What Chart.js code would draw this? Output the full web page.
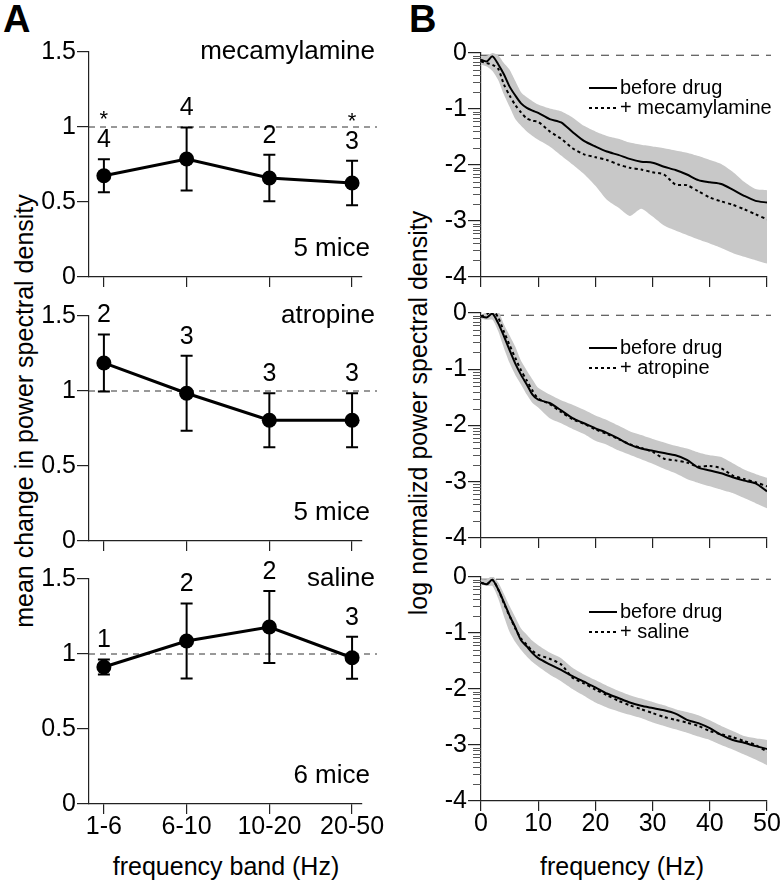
<!DOCTYPE html>
<html>
<head>
<meta charset="utf-8">
<script src="https://cdn.jsdelivr.net/npm/chart.js@4.4.1/dist/chart.umd.min.js"></script>
<style>
body { margin: 0; background: #fff; }
#fig { position: relative; width: 783px; height: 884px; overflow: hidden; font-family: "Liberation Sans", Arial, sans-serif; }
#fig canvas { position: absolute; }
.lbl { position: absolute; white-space: nowrap; line-height: 1; color: #000; }
.rot { transform: translate(-50%, -50%) rotate(-90deg); }
.mid { transform: translate(-50%, -50%); }
</style>
</head>
<body>
<div id="fig">
  <div class="lbl" style="left:3px;top:0;font-weight:bold;font-size:38px">A</div>
  <div class="lbl" style="left:409px;top:0;font-weight:bold;font-size:38px">B</div>
  <div class="lbl rot" style="left:24px;top:411px;font-size:25px">mean change in power spectral density</div>
  <div class="lbl rot" style="left:418px;top:413px;font-size:25px">log normalizd power spectral density</div>
  <div class="lbl mid" style="left:226px;top:866px;font-size:25px">frequency band (Hz)</div>
  <div class="lbl mid" style="left:622px;top:866px;font-size:25px">frequency (Hz)</div>

  <canvas id="a1" width="400" height="265" style="left:0;top:30px"></canvas>
  <canvas id="a2" width="400" height="260" style="left:0;top:295px"></canvas>
  <canvas id="a3" width="400" height="329" style="left:0;top:555px"></canvas>
  <canvas id="b1" width="383" height="265" style="left:400px;top:30px"></canvas>
  <canvas id="b2" width="383" height="260" style="left:400px;top:295px"></canvas>
  <canvas id="b3" width="383" height="329" style="left:400px;top:555px"></canvas>
</div>
<script>
// --- données panneau A : variation moyenne par bande de fréquence ---
const bands = ['1-6', '6-10', '10-20', '20-50'];
const yTicksA = [0, 0.5, 1, 1.5];

const mecaMean = [0.675, 0.787, 0.66, 0.627];
const mecaErr  = [0.11, 0.21, 0.155, 0.148];
const mecaN    = [4, 4, 2, 3];
const mecaStar = [true, false, false, true];

const atroMean = [1.187, 0.985, 0.805, 0.805];
const atroErr  = [0.19, 0.25, 0.18, 0.18];
const atroN    = [2, 3, 3, 3];
const atroStar = [false, false, false, false];

const salMean = [0.913, 1.087, 1.18, 0.975];
const salErr  = [0.05, 0.25, 0.24, 0.14];
const salN    = [1, 2, 2, 3];
const salStar = [false, false, false, false];

// --- données panneau B : spectres log normalisés ---
const yTicksB = [-4, -3, -2, -1, 0];
const freq = [0, 1, 2, 3, 4, 5, 6, 7, 8, 9, 10, 12, 14, 16, 18, 20, 22, 24, 26, 28, 30, 32, 34, 36, 38, 40, 42, 44, 46, 48, 50];

const mecaBefore = [-0.12, -0.15, -0.06, -0.20, -0.38, -0.60, -0.76, -0.90, -0.98, -1.03, -1.07, -1.18, -1.24, -1.41, -1.57, -1.67, -1.76, -1.82, -1.89, -1.94, -1.96, -2.03, -2.09, -2.17, -2.27, -2.31, -2.34, -2.44, -2.55, -2.64, -2.67];
const mecaDrug   = [-0.15, -0.18, -0.21, -0.28, -0.56, -0.76, -0.93, -1.06, -1.17, -1.21, -1.23, -1.40, -1.53, -1.70, -1.81, -1.86, -1.91, -1.99, -2.05, -2.08, -2.13, -2.17, -2.35, -2.36, -2.47, -2.58, -2.65, -2.71, -2.79, -2.88, -2.97];
const mecaUpper  = [-0.06, -0.05, 0.0, -0.04, -0.18, -0.30, -0.50, -0.70, -0.79, -0.86, -0.92, -0.99, -1.04, -1.15, -1.30, -1.40, -1.48, -1.53, -1.60, -1.64, -1.67, -1.70, -1.74, -1.78, -1.84, -1.91, -1.98, -2.12, -2.30, -2.43, -2.45];
const mecaLower  = [-0.21, -0.24, -0.32, -0.48, -0.74, -0.96, -1.18, -1.30, -1.40, -1.48, -1.55, -1.67, -1.83, -1.99, -2.16, -2.37, -2.62, -2.76, -2.91, -2.78, -2.92, -3.08, -3.17, -3.25, -3.33, -3.40, -3.48, -3.57, -3.64, -3.70, -3.76];

const atroBefore = [-0.06, -0.08, -0.01, -0.18, -0.41, -0.66, -0.90, -1.10, -1.27, -1.45, -1.54, -1.60, -1.73, -1.87, -1.96, -2.05, -2.13, -2.23, -2.34, -2.41, -2.45, -2.49, -2.53, -2.61, -2.75, -2.80, -2.85, -2.92, -2.98, -3.03, -3.17];
const atroDrug   = [-0.06, -0.02, 0.05, -0.08, -0.33, -0.57, -0.80, -1.02, -1.20, -1.38, -1.52, -1.62, -1.76, -1.89, -1.97, -2.07, -2.15, -2.24, -2.33, -2.40, -2.47, -2.59, -2.62, -2.66, -2.73, -2.72, -2.76, -2.89, -2.95, -3.01, -3.08];
const atroUpper  = [-0.03, 0.02, 0.15, 0.05, -0.20, -0.40, -0.60, -0.85, -1.02, -1.18, -1.33, -1.45, -1.55, -1.63, -1.72, -1.82, -1.90, -2.00, -2.10, -2.17, -2.24, -2.30, -2.36, -2.41, -2.48, -2.53, -2.56, -2.67, -2.78, -2.86, -2.93];
const atroLower  = [-0.10, -0.12, -0.12, -0.32, -0.62, -0.89, -1.10, -1.27, -1.45, -1.60, -1.68, -1.87, -1.96, -2.06, -2.15, -2.27, -2.34, -2.44, -2.52, -2.60, -2.68, -2.77, -2.85, -2.95, -3.02, -3.08, -3.14, -3.20, -3.29, -3.38, -3.47];

const salBefore = [-0.10, -0.13, -0.05, -0.22, -0.45, -0.69, -0.90, -1.13, -1.24, -1.36, -1.45, -1.56, -1.66, -1.77, -1.87, -1.97, -2.08, -2.16, -2.24, -2.30, -2.34, -2.38, -2.44, -2.55, -2.61, -2.70, -2.82, -2.91, -2.96, -3.02, -3.07];
const salDrug   = [-0.10, -0.13, -0.05, -0.22, -0.47, -0.70, -0.92, -1.10, -1.21, -1.32, -1.39, -1.46, -1.56, -1.80, -1.90, -2.01, -2.11, -2.21, -2.29, -2.36, -2.43, -2.50, -2.55, -2.60, -2.66, -2.75, -2.81, -2.86, -2.93, -3.00, -3.12];
const salUpper  = [-0.04, -0.04, 0.02, -0.10, -0.30, -0.52, -0.72, -0.92, -1.03, -1.14, -1.22, -1.35, -1.45, -1.62, -1.74, -1.84, -1.94, -2.03, -2.11, -2.17, -2.23, -2.29, -2.36, -2.41, -2.47, -2.56, -2.66, -2.75, -2.84, -2.88, -2.91];
const salLower  = [-0.14, -0.16, -0.16, -0.38, -0.70, -0.98, -1.16, -1.30, -1.42, -1.52, -1.60, -1.74, -1.86, -2.00, -2.12, -2.24, -2.33, -2.40, -2.46, -2.52, -2.60, -2.66, -2.72, -2.78, -2.85, -2.91, -3.00, -3.08, -3.17, -3.26, -3.36];

const FONT = '"Liberation Sans", Arial, sans-serif';
Chart.defaults.font.family = FONT;
Chart.defaults.color = '#000';

// taille fixe des axes pour caler les zones de tracé
function fixScale(size, horiz) {
  return s => {
    if (horiz) s.height = size; else s.width = size;
    s.paddingTop = s.paddingBottom = s.paddingLeft = s.paddingRight = 0;
  };
}

// ligne pointillée de référence (1 ou 0)
const refLine = {
  id: 'refLine',
  beforeDatasetsDraw(chart, args, o) {
    const { ctx, chartArea: ca, scales: { y } } = chart;
    const py = y.getPixelForValue(o.value);
    ctx.save();
    ctx.strokeStyle = '#333';
    ctx.lineWidth = 1;
    ctx.setLineDash(o.dash);
    ctx.beginPath();
    ctx.moveTo(ca.left, py);
    ctx.lineTo(ca.right + o.extend, py);
    ctx.stroke();
    ctx.restore();
  }
};

// barres d'erreur + effectifs + étoiles
const errorBars = {
  id: 'errorBars',
  beforeDatasetsDraw(chart, args, o) {
    if (!o.err) return;
    const { ctx, scales: { x, y } } = chart;
    const pts = chart.data.datasets[0].data;
    ctx.save();
    ctx.strokeStyle = '#000';
    ctx.lineWidth = 2;
    pts.forEach((p, i) => {
      const px = x.getPixelForValue(p.x);
      const top = y.getPixelForValue(p.y + o.err[i]);
      const bot = y.getPixelForValue(p.y - o.err[i]);
      ctx.beginPath();
      ctx.moveTo(px, top); ctx.lineTo(px, bot);
      ctx.moveTo(px - 6, top); ctx.lineTo(px + 6, top);
      ctx.moveTo(px - 6, bot); ctx.lineTo(px + 6, bot);
      ctx.stroke();
    });
    ctx.restore();
  },
  afterDatasetsDraw(chart, args, o) {
    if (!o.err) return;
    const { ctx, scales: { x, y } } = chart;
    const pts = chart.data.datasets[0].data;
    ctx.save();
    ctx.fillStyle = '#000';
    ctx.textAlign = 'center';
    ctx.textBaseline = 'middle';
    pts.forEach((p, i) => {
      const px = x.getPixelForValue(p.x);
      const ly = y.getPixelForValue(p.y + o.err[i]) - 19;
      ctx.font = '25px ' + FONT;
      ctx.fillText(String(o.n[i]), px, ly);
      if (o.star[i]) {
        ctx.font = '22px ' + FONT;
        ctx.fillText('*', px, ly - 20);
      }
    });
    ctx.restore();
  }
};

// nom du produit + nombre de souris
const panelText = {
  id: 'panelText',
  afterDraw(chart, args, o) {
    if (!o.title) return;
    const { ctx, chartArea: ca } = chart;
    ctx.save();
    ctx.fillStyle = '#000';
    ctx.textAlign = 'right';
    ctx.textBaseline = 'middle';
    ctx.font = '26px ' + FONT;
    ctx.fillText(o.title, ca.right + 13, ca.top);
    ctx.fillText(o.note, ca.right + 8, ca.bottom - 28);
    ctx.restore();
  }
};

// légende des spectres
const legendB = {
  id: 'legendB',
  afterDraw(chart, args, o) {
    if (!o.drug) return;
    const { ctx, chartArea: ca } = chart;
    const x0 = ca.left + 108, y0 = ca.top + 35;
    ctx.save();
    ctx.strokeStyle = '#000';
    ctx.lineWidth = 2;
    ctx.beginPath(); ctx.moveTo(x0, y0); ctx.lineTo(x0 + 28, y0); ctx.stroke();
    ctx.setLineDash([3, 3]);
    ctx.beginPath(); ctx.moveTo(x0, y0 + 20); ctx.lineTo(x0 + 28, y0 + 20); ctx.stroke();
    ctx.fillStyle = '#000';
    ctx.font = '20px ' + FONT;
    ctx.textBaseline = 'middle';
    ctx.fillText('before drug', x0 + 31, y0);
    ctx.fillText('+ ' + o.drug, x0 + 31, y0 + 20);
    ctx.restore();
  }
};

// petites graduations log sur l'axe y
const minorTicks = {
  id: 'minorTicks',
  afterDraw(chart, args, o) {
    if (!o.on) return;
    const { ctx, chartArea: ca, scales: { y } } = chart;
    ctx.save();
    ctx.strokeStyle = '#555';
    ctx.lineWidth = 1;
    ctx.beginPath();
    for (let d = 0; d < 4; d++) {
      for (let k = 2; k <= 9; k++) {
        const py = Math.round(y.getPixelForValue(-(d + 1) + Math.log10(k))) + 0.5;
        ctx.moveTo(ca.left - 8, py);
        ctx.lineTo(ca.left, py);
      }
    }
    ctx.stroke();
    ctx.restore();
  }
};

const axisGrid = len => ({ drawOnChartArea: false, tickLength: len, color: '#222', lineWidth: 1.2 });
const axisBorder = { color: '#222', width: 1.2 };

function panelA(id, p) {
  const cv = document.getElementById(id);
  const cTop = parseFloat(cv.style.top);
  new Chart(cv, {
    type: 'line',
    data: {
      datasets: [{
        data: p.mean.map((v, i) => ({ x: i, y: v })),
        borderColor: '#000', borderWidth: 3, tension: 0,
        pointRadius: 7.5, pointBackgroundColor: '#000', pointBorderWidth: 0,
        clip: false
      }]
    },
    options: {
      responsive: false, animation: false, events: [],
      layout: { padding: { left: 0, right: 400 - 362, top: p.top - cTop, bottom: 0 } },
      plugins: {
        legend: { display: false }, tooltip: { enabled: false },
        refLine: { value: 1, extend: 15, dash: [6, 5] },
        errorBars: { err: p.err, n: p.n, star: p.star },
        panelText: { title: p.drug, note: p.mice }
      },
      scales: {
        x: {
          type: 'linear', min: -0.18, max: 3.12,
          afterBuildTicks: s => { s.ticks = bands.map((b, i) => ({ value: i })); },
          ticks: { display: p.showX, autoSkip: false, maxRotation: 0, padding: -2, font: { size: 25 }, callback: v => bands[v] },
          grid: axisGrid(10), border: axisBorder,
          afterFit: fixScale(cTop + cv.height - p.bottom, true)
        },
        y: {
          min: 0, max: 1.5,
          afterBuildTicks: s => { s.ticks = yTicksA.map(v => ({ value: v })); },
          ticks: { padding: 1, font: { size: 25 }, callback: v => String(v) },
          grid: axisGrid(12), border: axisBorder,
          afterFit: fixScale(89, false)
        }
      }
    },
    plugins: [refLine, errorBars, panelText]
  });
}

function panelB(id, p) {
  const cv = document.getElementById(id);
  const cTop = parseFloat(cv.style.top);
  const xy = arr => freq.map((f, i) => ({ x: f, y: arr[i] }));
  new Chart(cv, {
    type: 'line',
    data: {
      datasets: [
        { data: xy(p.before), borderColor: '#000', borderWidth: 2, pointRadius: 0, tension: 0.25, order: 0 },
        { data: xy(p.drug), borderColor: '#000', borderWidth: 2, borderDash: [3, 3], pointRadius: 0, tension: 0.25, order: 1 },
        { data: xy(p.upper), borderWidth: 0, borderColor: 'rgba(0,0,0,0)', backgroundColor: '#c8c8c8', fill: '+1', pointRadius: 0, tension: 0.2, order: 2, clip: false },
        { data: xy(p.lower), borderWidth: 0, borderColor: 'rgba(0,0,0,0)', fill: false, pointRadius: 0, tension: 0.2, order: 3, clip: false }
      ]
    },
    options: {
      responsive: false, animation: false, events: [],
      layout: { padding: { left: 0, right: 383 - 367, top: p.top - cTop, bottom: 0 } },
      plugins: {
        legend: { display: false }, tooltip: { enabled: false },
        refLine: { value: -0.04, extend: 4, dash: [8, 7] },
        legendB: { drug: p.name },
        minorTicks: { on: true }
      },
      scales: {
        x: {
          type: 'linear', min: 0, max: 50,
          ticks: { display: p.showX, stepSize: 10, maxRotation: 0, padding: -2, font: { size: 25 }, callback: v => String(v) },
          grid: axisGrid(10), border: axisBorder,
          afterFit: fixScale(cTop + cv.height - p.bottom, true)
        },
        y: {
          min: -4, max: 0,
          afterBuildTicks: s => { s.ticks = yTicksB.map(v => ({ value: v })); },
          ticks: { padding: 1, font: { size: 25 }, callback: v => String(v) },
          grid: axisGrid(13), border: axisBorder,
          afterFit: fixScale(81, false)
        }
      }
    },
    plugins: [refLine, legendB, minorTicks]
  });
}

panelA('a1', { mean: mecaMean, err: mecaErr, n: mecaN, star: mecaStar, drug: 'mecamylamine', mice: '5 mice', top: 52, bottom: 277, showX: false });
panelA('a2', { mean: atroMean, err: atroErr, n: atroN, star: atroStar, drug: 'atropine', mice: '5 mice', top: 316, bottom: 541, showX: false });
panelA('a3', { mean: salMean, err: salErr, n: salN, star: salStar, drug: 'saline', mice: '6 mice', top: 579, bottom: 804, showX: true });

panelB('b1', { before: mecaBefore, drug: mecaDrug, upper: mecaUpper, lower: mecaLower, name: 'mecamylamine', top: 53, bottom: 277, showX: false });
panelB('b2', { before: atroBefore, drug: atroDrug, upper: atroUpper, lower: atroLower, name: 'atropine', top: 313, bottom: 538, showX: false });
panelB('b3', { before: salBefore, drug: salDrug, upper: salUpper, lower: salLower, name: 'saline', top: 577, bottom: 801, showX: true });
</script>
</body>
</html>
